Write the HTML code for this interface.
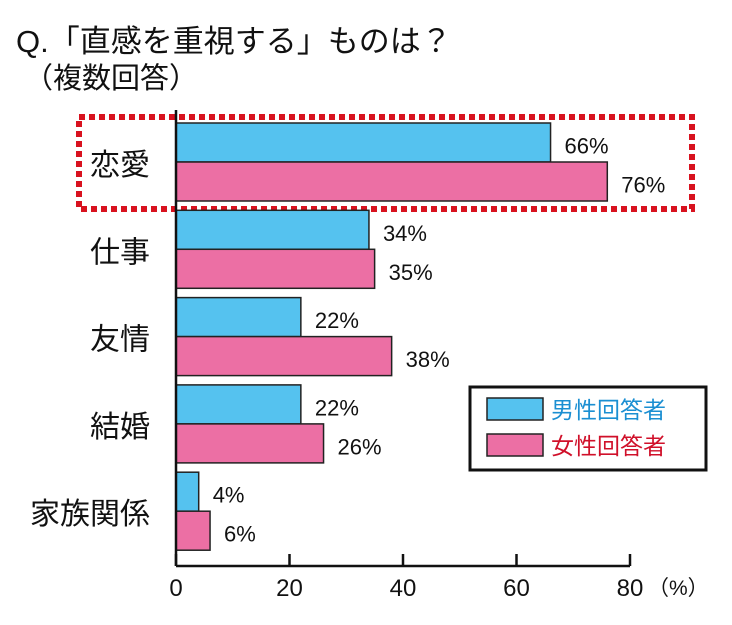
<!DOCTYPE html>
<html><head><meta charset="utf-8"><style>
body{margin:0;background:#fff;width:732px;height:620px;overflow:hidden;font-family:"Liberation Sans","Noto Sans CJK JP",sans-serif;}
</style></head><body>
<svg width="732" height="620" xmlns="http://www.w3.org/2000/svg" font-family="'Liberation Sans','Noto Sans CJK JP',sans-serif">
<text x="16" y="52" font-size="31" fill="#111">Q.「直感を重視する」ものは？</text>
<text x="24" y="88" font-size="29" fill="#111">（複数回答）</text>
<rect x="79" y="117" width="613" height="92" fill="none" stroke="#d8121f" stroke-width="6" stroke-dasharray="6,4"/>
<g id="plot"></g>
<g>
<rect x="470" y="387" width="236" height="83" fill="#fff" stroke="#111" stroke-width="3"/>
<rect x="487" y="398" width="56" height="22" fill="#55c2ef" stroke="#222" stroke-width="1.5"/>
<text x="551" y="418" font-size="23" fill="#1b8fd2">男性回答者</text>
<rect x="487" y="434" width="56" height="22" fill="#ec6fa4" stroke="#222" stroke-width="1.5"/>
<text x="551" y="454" font-size="23" fill="#d0102a">女性回答者</text>
</g>
</svg>
<script>
const categories=["恋愛","仕事","友情","結婚","家族関係"];
const maleValues=[66,34,22,22,4];
const femaleValues=[76,35,38,26,6];
const tickValues=[0,20,40,60,80];
const NS="http://www.w3.org/2000/svg";
const g=document.getElementById('plot');
const x0=176,x1=630,xMax=80;
const xs=v=>x0+(x1-x0)*v/xMax;
const topY=123,pitch=87.3,bh=39,axisY=566;
function mk(t,a){const e=document.createElementNS(NS,t);for(const k in a)e.setAttribute(k,a[k]);g.appendChild(e);return e;}
categories.forEach((c,i)=>{
 const y=topY+i*pitch;
 const lab=mk('text',{x:150,y:y+bh+13,'font-size':30,'text-anchor':'end',fill:'#111'});lab.textContent=c;
 
 
 const bm=mk('rect',{x:xs(0),y:y,width:xs(maleValues[i])-xs(0),height:bh,fill:'#55c2ef',stroke:'#222','stroke-width':1.5});
 
 
 const bf=mk('rect',{x:xs(0),y:y+bh,width:xs(femaleValues[i])-xs(0),height:bh,fill:'#ec6fa4',stroke:'#222','stroke-width':1.5});
 
 
 const tm=mk('text',{x:xs(maleValues[i])+14,y:y+bh/2+11,'font-size':22,fill:'#111'});tm.textContent=maleValues[i]+'%';
 
 
 const tf=mk('text',{x:xs(femaleValues[i])+14,y:y+bh*1.5+11,'font-size':22,fill:'#111'});tf.textContent=femaleValues[i]+'%';
 
 
});
const ya=mk('line',{x1:x0,y1:110,x2:x0,y2:axisY,stroke:'#111','stroke-width':2.5});


const xa=mk('line',{x1:x0,y1:axisY,x2:x1,y2:axisY,stroke:'#111','stroke-width':2.5});


tickValues.forEach(v=>{
 const tk=mk('line',{x1:xs(v),y1:axisY-12,x2:xs(v),y2:axisY,stroke:'#111','stroke-width':2.5});
 
 
 const tl=mk('text',{x:xs(v),y:axisY+30,'font-size':24,'text-anchor':'middle',fill:'#111'});tl.textContent=v;
 
 
});
const unit=mk('text',{x:x1+18,y:axisY+29,'font-size':21,fill:'#111'});unit.textContent='（%）';


</script>
</body></html>
